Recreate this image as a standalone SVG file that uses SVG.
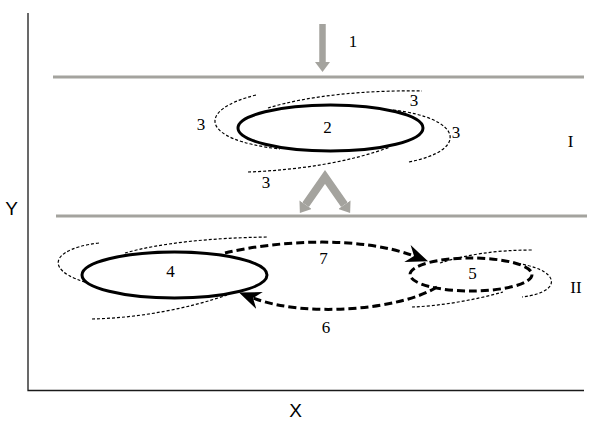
<svg xmlns="http://www.w3.org/2000/svg" width="612" height="423" viewBox="0 0 612 423">
<style>
.axis{stroke:#1a1a1a;stroke-width:1.3;fill:none}
.layer{stroke:#a4a39e;stroke-width:3;fill:none}
.garrow{stroke:#a4a39e;stroke-width:8;fill:none;stroke-linejoin:miter}
.thin{stroke:#000;stroke-width:1.2;stroke-dasharray:3 2;fill:none}
.solid{stroke:#000;stroke-width:3;fill:#fff}
.dashbold{stroke:#000;stroke-width:3;stroke-dasharray:8 4;fill:none}
.lbl{font-family:"Liberation Serif",serif;font-size:17px;fill:#000;text-anchor:middle}
.ax{font-family:"Liberation Sans",sans-serif;font-size:19px;fill:#000;text-anchor:middle}
</style>
<defs>
<marker id="gh" viewBox="0 0 10 15" refX="0" refY="7.5" markerWidth="10" markerHeight="15" markerUnits="userSpaceOnUse" orient="auto-start-reverse">
<path d="M0,0 L10,7.5 L0,15 z" fill="#a4a39e"/>
</marker>
<marker id="bh" viewBox="0 0 22 18" refX="7" refY="9" markerWidth="22" markerHeight="18" markerUnits="userSpaceOnUse" orient="auto">
<path d="M0,0 L22,9 L0,18 L7,9 z" fill="#000"/>
</marker>
</defs>
<rect width="612" height="423" fill="#fff"/>
<g id="axes">
<path class="axis" d="M28,13 V390.5 H584"/>
<text class="ax" x="11.5" y="215">Y</text>
<text class="ax" x="295.5" y="417">X</text>
</g>
<g id="layers">
<line class="layer" x1="53" y1="77" x2="584" y2="77"/>
<line class="layer" x1="56" y1="216" x2="587" y2="216"/>
<text class="lbl" x="570.5" y="147">I</text>
<text class="lbl" x="576" y="293">II</text>
</g>
<g id="node1">
<line class="garrow" x1="322.5" y1="24" x2="322.5" y2="62" style="stroke-width:6.5" marker-end="url(#gh)"/>
<text class="lbl" x="353" y="47">1</text>
</g>
<g id="node2">
<path class="thin" d="M256,95 C196,110 200,140 280,149"/>
<path class="thin" d="M268,108 C310,95 370,90 422,91"/>
<path class="thin" d="M393,110 C462,118 470,150 409,162"/>
<path class="thin" d="M248,172 C300,170 350,162 390,147"/>
<ellipse class="solid" cx="330.5" cy="128" rx="92.5" ry="23"/>
<text class="lbl" x="201" y="130">3</text>
<text class="lbl" x="327.5" y="133">2</text>
<text class="lbl" x="414" y="106">3</text>
<text class="lbl" x="456" y="138">3</text>
<text class="lbl" x="266" y="188">3</text>
</g>
<g id="upflow">
<path class="garrow" d="M305.6,204.7 L325,177 L344.4,204.7" marker-start="url(#gh)" marker-end="url(#gh)"/>
</g>
<g id="node4">
<path class="thin" d="M99,243 C38,250 38,285 150,292"/>
<path class="thin" d="M125,253 C160,243 210,238 267,237"/>
<path class="thin" d="M92,319 C140,318 190,308 227,295"/>
<ellipse class="solid" cx="174.5" cy="275" rx="92.5" ry="23"/>
<text class="lbl" x="170.5" y="277">4</text>
</g>
<g id="node5">
<path class="thin" d="M440,263 C465,255 495,250 532,250"/>
<path class="thin" d="M513,263 C560,268 565,292 522,297"/>
<path class="thin" d="M412,307 C440,306 475,300 503,292"/>
<ellipse class="dashbold" cx="471" cy="274.5" rx="61" ry="16.5"/>
<text class="lbl" x="472.5" y="279">5</text>
</g>
<g id="connectors">
<path class="dashbold" d="M225,253 C280,240 361,236 414,256" marker-end="url(#bh)"/>
<path class="dashbold" d="M437,287 C400,310 305,318 253,298" marker-end="url(#bh)"/>
<text class="lbl" x="323.5" y="264">7</text>
<text class="lbl" x="326" y="333">6</text>
</g>
</svg>
